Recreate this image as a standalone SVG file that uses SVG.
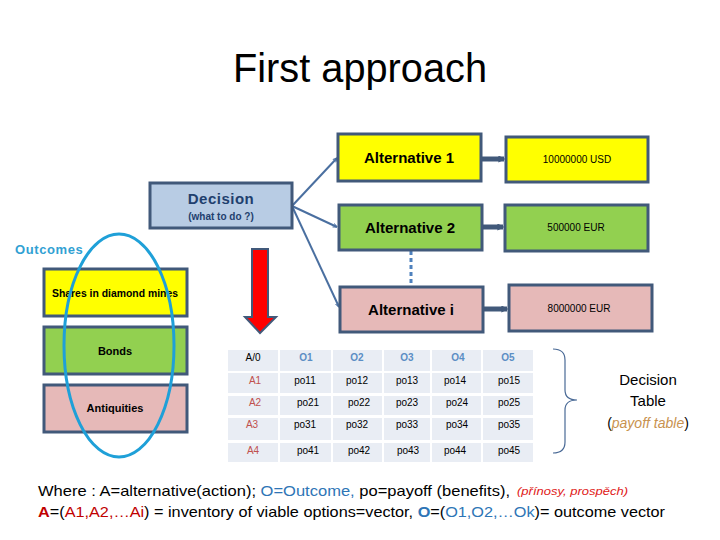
<svg xmlns="http://www.w3.org/2000/svg" width="720" height="540" viewBox="0 0 720 540">
<defs>
<style>
text{font-family:"Liberation Sans",Arial,sans-serif;}
.box{stroke:#41597a;stroke-width:3;}
.yellow{fill:#ffff00;}
.green{fill:#92d050;}
.pink{fill:#e6b9b8;}
.alt{font-size:15px;font-weight:bold;fill:#000;text-anchor:middle;}
.val{font-size:10px;fill:#000;text-anchor:middle;}
.out{font-size:11px;font-weight:bold;fill:#000;text-anchor:middle;}
.cell{fill:#e9edf4;}
.tc{font-size:10px;fill:#000;text-anchor:middle;}
.th{font-size:10px;fill:#5b8ec4;text-anchor:middle;font-weight:bold;}
.ta{font-size:10px;fill:#c0504d;text-anchor:middle;}
.dl{stroke:#4a6fa0;stroke-width:2;fill:none;marker-end:url(#openArr);}
.thick{stroke:#41597a;stroke-width:5;fill:none;marker-end:url(#solidArr);}
</style>
<marker id="openArr" viewBox="0 0 10 10" refX="9" refY="5" markerWidth="2.5" markerHeight="2.5" orient="auto" markerUnits="strokeWidth">
<path d="M1,1 L9,5 L1,9" fill="none" stroke="#4a6fa0" stroke-width="2"/>
</marker>
<marker id="solidArr" viewBox="0 0 10 10" refX="8" refY="5" markerWidth="1.4" markerHeight="1.4" orient="auto" markerUnits="strokeWidth">
<path d="M0,0 L10,5 L0,10 Z" fill="#41597a"/>
</marker>
</defs>
<rect width="720" height="540" fill="#ffffff"/>

<text x="360" y="82" font-size="40" text-anchor="middle" fill="#000" textLength="254" lengthAdjust="spacingAndGlyphs">First approach</text>

<g id="connectors">
<line class="dl" x1="292" y1="206" x2="337" y2="158"/>
<line class="dl" x1="292" y1="206" x2="337" y2="227"/>
<line class="dl" x1="292" y1="206" x2="339" y2="307"/>
<line class="thick" x1="482" y1="159" x2="504" y2="159"/>
<line class="thick" x1="483" y1="227" x2="503" y2="227"/>
<line class="thick" x1="484" y1="309" x2="507" y2="309"/>
<line x1="411" y1="251" x2="411" y2="286" stroke="#4f81bd" stroke-width="3" stroke-dasharray="4,3"/>
</g>

<g id="decision">
<rect x="150" y="183" width="142" height="45" fill="#b8cce4" class="box"/>
<text x="221" y="204" font-size="15" font-weight="bold" fill="#1f3f6e" text-anchor="middle" letter-spacing="0.5">Decision</text>
<text x="221" y="220" font-size="10" font-weight="bold" fill="#1f3f6e" text-anchor="middle">(what to do ?)</text>
</g>

<g id="alt1">
<rect x="338" y="134" width="143" height="47" class="box yellow"/>
<text class="alt" x="409" y="163">Alternative 1</text>
</g>
<g id="val1">
<rect x="506" y="137" width="142" height="45" class="box yellow"/>
<text class="val" x="577" y="163">10000000 USD</text>
</g>
<g id="alt2">
<rect x="339" y="205" width="143" height="45" class="box green"/>
<text class="alt" x="410" y="233">Alternative 2</text>
</g>
<g id="val2">
<rect x="505" y="205" width="143" height="46" class="box green"/>
<text class="val" x="576" y="231">500000 EUR</text>
</g>
<g id="alti">
<rect x="340" y="287" width="143" height="45" class="box pink"/>
<text class="alt" x="411" y="315">Alternative i</text>
</g>
<g id="vali">
<rect x="509" y="285" width="143" height="46" class="box pink"/>
<text class="val" x="579" y="312">8000000 EUR</text>
</g>

<g id="outcomes">
<text x="15" y="254" font-size="13" font-weight="bold" fill="#31a1d3" letter-spacing="0.6">Outcomes</text>
</g>
<g id="shares">
<rect x="44" y="269" width="143" height="47" class="box yellow"/>
<text class="out" x="115" y="297" textLength="126" lengthAdjust="spacingAndGlyphs">Shares in diamond mines</text>
</g>
<g id="bonds">
<rect x="44" y="327" width="143" height="47" class="box green"/>
<text class="out" x="115" y="355">Bonds</text>
</g>
<g id="antiquities">
<rect x="44" y="385" width="143" height="47" class="box pink"/>
<text class="out" x="115" y="412">Antiquities</text>
</g>
<g id="ellipse">
<ellipse cx="119" cy="345.5" rx="55" ry="111.5" fill="none" stroke="#1fa0d8" stroke-width="3"/>
</g>

<g id="redArrow">
<path d="M252,249 H268 V317 H276 L260,333 L245,317 H252 Z" fill="#ff0000" stroke="#41597a" stroke-width="2"/>
</g>

<g id="table">
<g>
<rect class="cell" x="228" y="350" width="50" height="21"/>
<rect class="cell" x="280" y="350" width="51" height="21"/>
<rect class="cell" x="333" y="350" width="49" height="21"/>
<rect class="cell" x="384" y="350" width="46" height="21"/>
<rect class="cell" x="432" y="350" width="49" height="21"/>
<rect class="cell" x="483" y="350" width="50" height="21"/>

<rect class="cell" x="228" y="373" width="50" height="20"/>
<rect class="cell" x="280" y="373" width="51" height="20"/>
<rect class="cell" x="333" y="373" width="49" height="20"/>
<rect class="cell" x="384" y="373" width="46" height="20"/>
<rect class="cell" x="432" y="373" width="49" height="20"/>
<rect class="cell" x="483" y="373" width="50" height="20"/>

<rect class="cell" x="228" y="396" width="50" height="19"/>
<rect class="cell" x="280" y="396" width="51" height="19"/>
<rect class="cell" x="333" y="396" width="49" height="19"/>
<rect class="cell" x="384" y="396" width="46" height="19"/>
<rect class="cell" x="432" y="396" width="49" height="19"/>
<rect class="cell" x="483" y="396" width="50" height="19"/>

<rect class="cell" x="228" y="418" width="50" height="22"/>
<rect class="cell" x="280" y="418" width="51" height="22"/>
<rect class="cell" x="333" y="418" width="49" height="22"/>
<rect class="cell" x="384" y="418" width="46" height="22"/>
<rect class="cell" x="432" y="418" width="49" height="22"/>
<rect class="cell" x="483" y="418" width="50" height="22"/>

<rect class="cell" x="228" y="443" width="50" height="19"/>
<rect class="cell" x="280" y="443" width="51" height="19"/>
<rect class="cell" x="333" y="443" width="49" height="19"/>
<rect class="cell" x="384" y="443" width="46" height="19"/>
<rect class="cell" x="432" y="443" width="49" height="19"/>
<rect class="cell" x="483" y="443" width="50" height="19"/>
</g>
<text class="tc" x="253" y="361">A/0</text>
<text class="th" x="306" y="361">O1</text>
<text class="th" x="357" y="361">O2</text>
<text class="th" x="407" y="361">O3</text>
<text class="th" x="458" y="361">O4</text>
<text class="th" x="508" y="361">O5</text>

<text class="ta" x="255" y="384">A1</text>
<text class="tc" x="305" y="384">po11</text>
<text class="tc" x="357" y="384">po12</text>
<text class="tc" x="407" y="384">po13</text>
<text class="tc" x="455" y="384">po14</text>
<text class="tc" x="509" y="384">po15</text>

<text class="ta" x="255" y="406">A2</text>
<text class="tc" x="308" y="406">po21</text>
<text class="tc" x="359" y="406">po22</text>
<text class="tc" x="407" y="406">po23</text>
<text class="tc" x="457" y="406">po24</text>
<text class="tc" x="509" y="406">po25</text>

<text class="ta" x="252" y="428">A3</text>
<text class="tc" x="305" y="428">po31</text>
<text class="tc" x="357" y="428">po32</text>
<text class="tc" x="407" y="428">po33</text>
<text class="tc" x="457" y="428">po34</text>
<text class="tc" x="509" y="428">po35</text>

<text class="ta" x="253" y="454">A4</text>
<text class="tc" x="308" y="454">po41</text>
<text class="tc" x="359" y="454">po42</text>
<text class="tc" x="408" y="454">po43</text>
<text class="tc" x="455" y="454">po44</text>
<text class="tc" x="509" y="454">po45</text>
</g>

<g id="brace">
<path d="M553,349 Q565,349 565,360 V390 Q565,400 577,400 Q565,400 565,410 V442 Q565,453 553,453" fill="none" stroke="#4a6a96" stroke-width="1.2"/>
</g>

<g id="decisionTable">
<text x="648" y="385" font-size="15" text-anchor="middle" fill="#000">Decision</text>
<text x="648" y="406" font-size="15" text-anchor="middle" fill="#000">Table</text>
<text x="648" y="428" font-size="14" text-anchor="middle" fill="#000">(<tspan font-style="italic" fill="#c8924f">payoff table</tspan>)</text>
</g>

<g id="legend">
<text x="38" y="496" font-size="15" fill="#000" textLength="472" lengthAdjust="spacingAndGlyphs">Where : A=alternative(action); <tspan fill="#2e75b6">O=Outcome,</tspan> po=payoff (benefits),</text>
<text x="517" y="495" font-size="11" font-style="italic" fill="#e02020" textLength="111" lengthAdjust="spacingAndGlyphs">(přínosy, prospěch)</text>
<text x="38" y="517" font-size="15" fill="#000" textLength="627" lengthAdjust="spacingAndGlyphs"><tspan fill="#c00000" font-weight="bold">A</tspan>=(<tspan fill="#c00000">A1,A2,…Ai</tspan>) = inventory of viable options=vector, <tspan fill="#2e75b6" font-weight="bold">O</tspan>=(<tspan fill="#2e75b6">O1,O2,…Ok</tspan>)= outcome vector</text>
</g>
</svg>
